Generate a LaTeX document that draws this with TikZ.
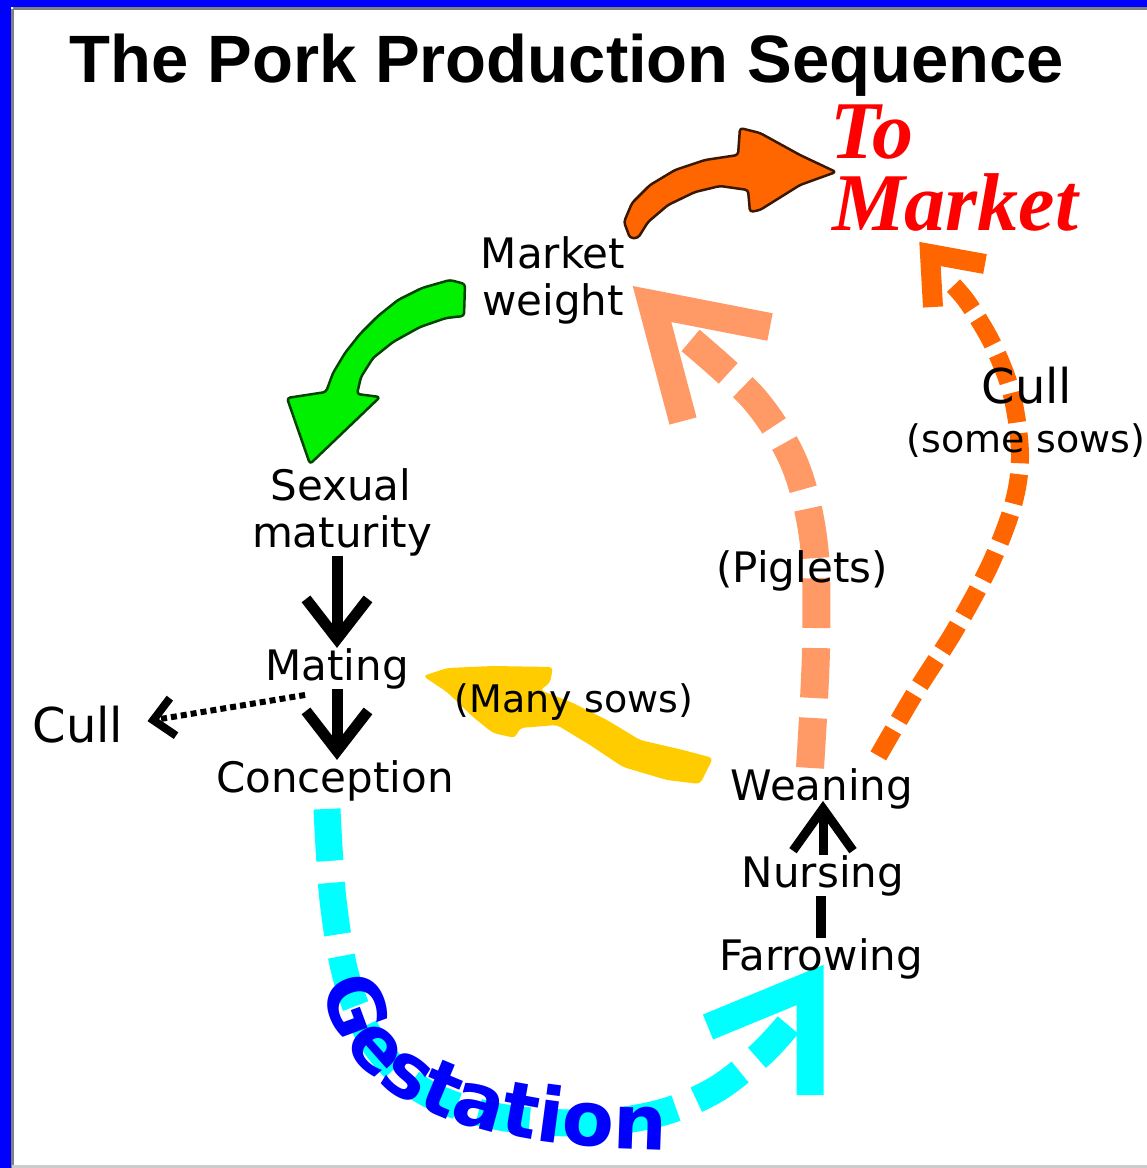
\documentclass[tikz,border=0pt]{standalone}
\usepackage{fontspec}
\newfontfamily\lblfont{DejaVu Sans}
\newfontfamily\titlefont{Liberation Sans}
\newfontfamily\mktfont{Liberation Serif}
\usetikzlibrary{calc,decorations.text,arrows.meta}
\definecolor{pkBlue}{HTML}{0000FF}
\definecolor{pkRed}{HTML}{FF0000}
\definecolor{pkOrange}{HTML}{FF6600}
\definecolor{pkSalmon}{HTML}{FF9966}
\definecolor{pkCyan}{HTML}{00FFFF}
\definecolor{pkYellow}{HTML}{FFCC00}
\definecolor{pkGreen}{HTML}{00F000}
\definecolor{pkDarkGreen}{HTML}{004400}
\definecolor{pkDarkOrange}{HTML}{3A1800}
\newcommand\gestfmt{\lblfont\bfseries\fontsize{76}{76}\selectfont\color{pkBlue}}
\pgfdeclarelayer{back}
\pgfdeclarelayer{bg}
\pgfsetlayers{back,bg,main}
\tikzset{
  lbl/.style={font=\lblfont\fontsize{42}{42}\selectfont, anchor=base, inner sep=0pt, text=black},
  lblsm/.style={lbl, font=\lblfont\fontsize{38}{38}\selectfont},
  lblbig/.style={lbl, font=\lblfont\fontsize{48}{48}\selectfont},
  titletext/.style={font=\titlefont\bfseries\fontsize{67}{67}\selectfont, anchor=base, inner sep=0pt},
  mkttext/.style={font=\mktfont\bfseries\itshape\fontsize{82}{82}\selectfont, anchor=base, inner sep=0pt, text=pkRed},
  blk/.style={line width=11pt, -{Straight Barb[length=40pt, width=62pt]}},
  blksmall/.style={line width=9pt, -{Straight Barb[length=42pt, width=60pt]}},
  dotarr/.style={line width=6pt, dash pattern=on 6pt off 4pt, -{Straight Barb[length=20pt, width=38pt, line width=8pt]}},
  salmondash/.style={draw=pkSalmon, line width=28pt, dash pattern=on 50pt off 20pt},
  salmonhead/.style={draw=pkSalmon, line width=28pt, line join=miter},
  orangedash/.style={draw=pkOrange, line width=18pt, dash pattern=on 30pt off 11pt},
  orangehead/.style={draw=pkOrange, line width=20pt, line join=miter},
  cyandash/.style={draw=pkCyan, line width=27pt, dash pattern=on 52pt off 22pt},
  cyanhead/.style={draw=pkCyan, line width=27pt, line join=miter},
  brush/.style={line width=2.5pt, line join=round, rounded corners=3pt}
}
\begin{document}
\begin{tikzpicture}[x=1pt,y=-1pt]
\useasboundingbox (0,0) rectangle (1147,1168);
% frame
\begin{pgfonlayer}{back}
\fill[white] (0,0) rectangle (1147,1168);
\fill[pkBlue] (0,0) rectangle (1147,7);
\fill[pkBlue] (0,0) rectangle (11,1168);
\draw[gray, line width=3pt] (12.5,8.5) -- (1147,8.5);
\draw[gray, line width=3pt] (12.5,8.5) -- (12.5,1168);
\draw[black!20, line width=3pt] (12,1166) -- (1147,1166);
\end{pgfonlayer}

% texts
\node[titletext] (title) at (567,82) {The Pork Production Sequence};
\node[mkttext] (to) at (872,158) {To};
\node[mkttext] (market) at (955,230) {Market};
\node[lbl] (mw1) at (553,268) {Market};
\node[lbl] (mw2) at (553,315) {weight};
\node[lbl] (sx1) at (341,500) {Sexual};
\node[lbl] (sx2) at (342,547) {maturity};
\node[lbl] (mating) at (337,680) {Mating};
\node[lbl] (concep) at (335,792) {Conception};
\node[lblbig] (cullL) at (78,742) {Cull};
\node[lblsm] (many) at (574,712) {(Many sows)};
\node[lbl] (wean) at (822,800) {Weaning};
\node[lbl] (nurs) at (823,887) {Nursing};
\node[lbl] (farr) at (821,970) {Farrowing};
\node[lbl] (pig) at (802,582) {(Piglets)};
\node[lblbig] (cullR) at (1027,403) {Cull};
\node[lblsm] (some) at (1026,452) {(some sows)};

\begin{pgfonlayer}{bg}
% to market arrow
\filldraw[brush, fill=pkOrange, draw=pkDarkOrange]
  (630,238) -- (624,222) -- (632,203) -- (650,185) -- (675,170) -- (705,160) -- (738,155)
  -- (740,128) -- (760,133) -- (800,155) -- (836,172) -- (800,185) -- (760,210) -- (750,212)
  -- (748,190) -- (720,186) -- (695,192) -- (668,205) -- (648,222) -- (638,238) -- cycle;
% green arrow
\filldraw[brush, fill=pkGreen, draw=pkDarkGreen]
  (450,280) -- (422,288) -- (398,300) -- (378,316) -- (360,334) -- (345,353) -- (333,373)
  -- (326,392) -- (287,398) -- (310,464) -- (380,397) -- (357,394) -- (361,377) -- (373,358)
  -- (393,342) -- (420,327) -- (446,318) -- (464,316) -- (465,284) -- cycle;
% yellow arrow
\fill[pkYellow, rounded corners=4pt]
  (423,676) -- (447,668) -- (493,666) -- (553,667) -- (550,683) -- (540,690) -- (573,703)
  -- (607,720) -- (640,740) -- (683,750) -- (713,758) -- (700,784) -- (667,780) -- (623,767)
  -- (590,745) -- (557,725) -- (520,728) -- (515,738) -- (493,733) -- (473,717) -- (447,692) -- cycle;
% piglets dashed arrow
\coordinate (sEnd) at (690,340);
\coordinate (sTip) at (652,304);
\draw[salmondash] plot[smooth, tension=0.55] coordinates
  {($(wean.north)+(-12,0)$) (816,650) (814,545) (795,465) (755,400) (sEnd)};
\draw[salmonhead] ($(sTip)+(118,23)$) -- (sTip) -- ($(sTip)+(31,117)$);
% cull some sows dashed arrow
\coordinate (oEnd) at (950,282);
\coordinate (oTip) at (930,254);
\draw[orangedash] plot[smooth, tension=0.55] coordinates
  {($(wean.north east)+(-35,-12)$) (915,693) (955,630) (990,565) (1013,505) (1020,455)
   (1012,395) (993,345) (968,303) (oEnd)};
\draw[orangehead] ($(oTip)+(55,10)$) -- (oTip) -- ($(oTip)+(3,53)$);
% gestation dashed arrow
\coordinate (cEnd) at (788,1025);
\coordinate (cTip) at (810,985);
\draw[cyandash] plot[smooth, tension=0.55] coordinates
  {($(concep.south)+(-8,8)$) (333,900) (347,980) (375,1045) (425,1092) (500,1117)
   (590,1123) (660,1113) (715,1090) (760,1055) (cEnd)};
\draw[cyanhead] ($(cTip)+(-102,42)$) -- (cTip) -- ($(cTip)+(0,110)$);
\end{pgfonlayer}

% gestation text
\path[decorate, decoration={text along path, text align={left}, text={|\gestfmt|Gestation}}]
  (322,985) .. controls (343,1098) and (450,1152) .. (705,1150);

% black arrows
\draw[blk] (sx2.south -| mating.north) -- (mating.north);
\draw[blk] (mating.south) -- (mating.south |- concep.north);
\draw[dotarr] ($(mating.south west)+(40,6)$) -- ($(cullL.east)+(24,-3)$);
\draw[blksmall] (nurs.north) -- ($(nurs.north |- wean.south)+(0,-8)$);
\draw[line width=10pt] (farr.north) -- (farr.north |- nurs.south);
\end{tikzpicture}
\end{document}
